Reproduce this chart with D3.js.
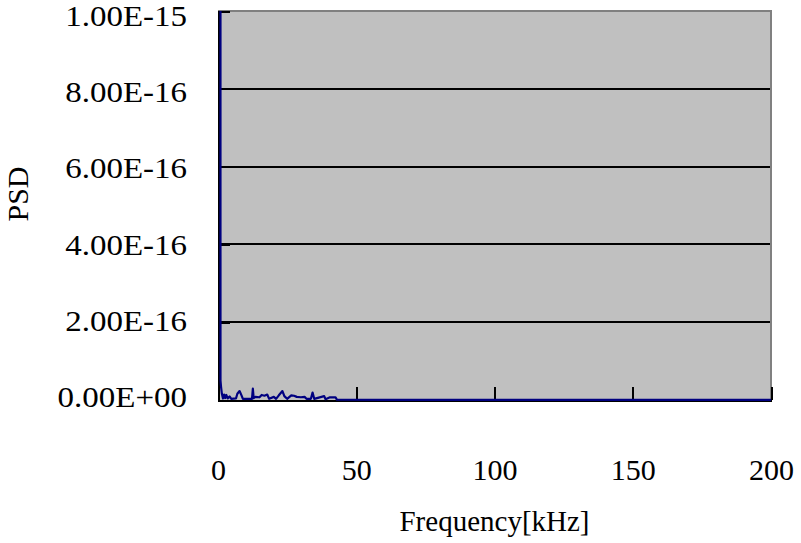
<!DOCTYPE html>
<html lang="en">
<head>
    <meta charset="UTF-8">
    <title>PSD vs Frequency</title>
    <script src="https://d3js.org/d3.v7.min.js"></script>
    <style>
        body {
            margin: 0;
            background: #fff;
        }
        svg text {
            font-family: "Liberation Serif", "Times New Roman", serif;
            font-size: 30px;
            fill: #000;
        }
        svg text.title {
            font-size: 29px;
        }
        .axis path,
        .axis line {
            stroke: #000;
            stroke-width: 2;
            shape-rendering: crispEdges;
        }
    </style>
</head>
<body>
<div id="chart"></div>
<script>
    // frequency in kHz, PSD values
    const freq = [0.8, 0.9, 1.1, 1.4, 1.8, 2.2, 2.6, 3.0, 3.5, 4.2, 4.8, 6.5, 7.0, 7.8, 8.5, 9.0,
        12.3, 12.6, 12.9, 13.5, 15.0, 15.8, 16.8, 17.8, 18.5, 20.2, 21.0, 22.0, 23.3, 24.0,
        25.0, 26.5, 27.5, 28.5, 30.0, 31.3, 32.0, 33.6, 34.2, 34.8, 38.4, 38.9, 40.5, 42.5,
        43.0, 60, 200];
    const psd = [3e-14, 5.0e-17, 3.4e-17, 1.6e-17, 0.4e-17, 1.4e-17, 0.5e-17, 1.3e-17, 0.4e-17,
        0.9e-17, 0.3e-17, 0.4e-17, 1.6e-17, 2.3e-17, 1.2e-17, 0.3e-17,
        0.3e-17, 2.9e-17, 0.5e-17, 0.8e-17, 0.7e-17, 1.3e-17, 1.1e-17, 1.4e-17, 0.3e-17,
        0.8e-17, 0.3e-17, 1.2e-17, 2.3e-17, 1.0e-17,
        0.3e-17, 1.2e-17, 1.1e-17, 0.8e-17, 0.7e-17, 0.8e-17, 0.3e-17, 0.3e-17, 1.9e-17, 0.3e-17,
        1.0e-17, 0.2e-17, 0.7e-17, 0.7e-17,
        0.1e-17, 0.05e-17, 0.05e-17];
    const xTicks = [0, 50, 100, 150, 200];
    const yTicks = [0, 2e-16, 4e-16, 6e-16, 8e-16, 1e-15];

    const data = freq.map((f, i) => ({f: f, v: psd[i]}));

    const W = 801, H = 543;
    const plot = {left: 218, top: 11, right: 771, bottom: 400};

    const svg = d3.select("#chart")
        .append("svg")
        .attr("width", W)
        .attr("height", H);

    const x = d3.scaleLinear().domain([0, 200]).range([plot.left, plot.right]);
    const y = d3.scaleLinear().domain([0, 1e-15]).range([plot.bottom, plot.top]);

    // plot area
    svg.append("rect")
        .attr("x", plot.left)
        .attr("y", plot.top)
        .attr("width", plot.right - plot.left)
        .attr("height", plot.bottom - plot.top)
        .attr("fill", "#c0c0c0");

    // gridlines
    svg.append("g")
        .selectAll("line")
        .data(yTicks.filter(d => d > 0 && d < 1e-15))
        .enter()
        .append("line")
        .attr("x1", plot.left)
        .attr("x2", plot.right)
        .attr("y1", d => y(d))
        .attr("y2", d => y(d))
        .attr("stroke", "#000")
        .attr("stroke-width", 2)
        .attr("shape-rendering", "crispEdges");

    // top and right border
    svg.append("path")
        .attr("d", `M${plot.left},${plot.top}H${plot.right}V${plot.bottom}`)
        .attr("fill", "none")
        .attr("stroke", "#808080")
        .attr("stroke-width", 2)
        .attr("shape-rendering", "crispEdges");

    // axes
    svg.append("g")
        .attr("class", "axis")
        .attr("transform", `translate(0,${plot.bottom})`)
        .call(d3.axisBottom(x).tickValues(xTicks).tickSizeInner(-13).tickSizeOuter(0).tickPadding(59))
        .call(g => g.selectAll("text").attr("font-size", null).attr("font-family", null));

    // excel spreads the y labels a little less than the gridlines,
    // and its font runs a bit wider than Liberation Serif
    svg.append("g")
        .attr("class", "axis")
        .attr("transform", `translate(${plot.left},0)`)
        .call(d3.axisLeft(y).tickValues(yTicks).tickSizeInner(-12).tickSizeOuter(0).tickPadding(31)
            .tickFormat(d => d3.format(".2e")(d).toUpperCase().replace(/E([+-])(\d)$/, "E$10$2")))
        .call(g => g.selectAll("text")
            .attr("font-size", null)
            .attr("font-family", null)
            .attr("x", 0)
            .attr("y", 0)
            .attr("transform", d => `translate(-31,${-3 + 7.5 * d / 1e-15}) scale(1.1,1)`));

    // series
    svg.append("clipPath")
        .attr("id", "clip")
        .append("rect")
        .attr("x", plot.left)
        .attr("y", plot.top)
        .attr("width", plot.right - plot.left)
        .attr("height", plot.bottom - plot.top + 2);

    const line = d3.line()
        .x(d => x(d.f))
        .y(d => y(d.v));

    svg.append("path")
        .datum(data)
        .attr("clip-path", "url(#clip)")
        .attr("fill", "none")
        .attr("stroke", "#000080")
        .attr("stroke-width", 2.2)
        .attr("stroke-linejoin", "round")
        .attr("d", line);

    // axis titles
    svg.append("text")
        .attr("class", "title")
        .attr("x", (plot.left + plot.right) / 2)
        .attr("y", 531)
        .attr("text-anchor", "middle")
        .text("Frequency[kHz]");

    svg.append("text")
        .attr("transform", `translate(28,194) rotate(-90)`)
        .attr("text-anchor", "middle")
        .style("font-size", "30px")
        .text("PSD");
</script>
</body>
</html>
